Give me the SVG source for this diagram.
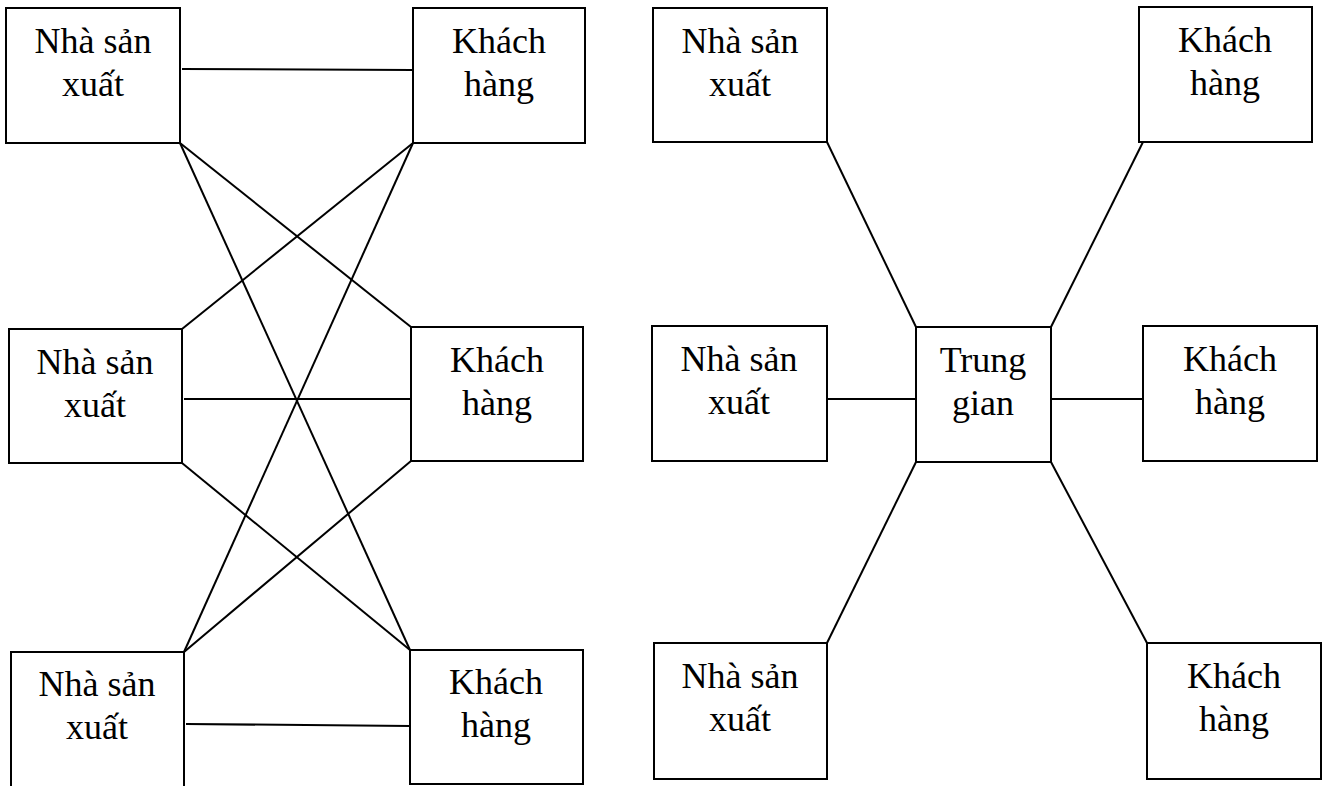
<svg xmlns="http://www.w3.org/2000/svg" width="1325" height="786" viewBox="0 0 1325 786">
<style>
.box{fill:#fff;stroke:#000;stroke-width:2}
.lbl{font-family:"Liberation Serif","Times New Roman",serif;font-size:36px;fill:#000;text-anchor:middle}
.ln{stroke:#000;stroke-width:2;fill:none}
</style>
<rect x="0" y="0" width="1325" height="786" fill="#fff"/>
<g id="connectors">
<line class="ln" x1="182" y1="69" x2="413" y2="70"/>
<line class="ln" x1="180" y1="143" x2="411" y2="327"/>
<line class="ln" x1="180" y1="143" x2="410" y2="650"/>
<line class="ln" x1="413" y1="143" x2="182" y2="329"/>
<line class="ln" x1="413" y1="143" x2="184" y2="652"/>
<line class="ln" x1="184" y1="399" x2="411" y2="399"/>
<line class="ln" x1="182" y1="463" x2="410" y2="650"/>
<line class="ln" x1="411" y1="461" x2="184" y2="652"/>
<line class="ln" x1="186" y1="724" x2="410" y2="726"/>
<line class="ln" x1="827" y1="142" x2="916" y2="327"/>
<line class="ln" x1="1143" y1="142" x2="1051" y2="327"/>
<line class="ln" x1="827" y1="399" x2="916" y2="399"/>
<line class="ln" x1="1051" y1="399" x2="1147" y2="399"/>
<line class="ln" x1="916" y1="462" x2="827" y2="643"/>
<line class="ln" x1="1051" y1="462" x2="1147" y2="643"/>
</g>
<g id="nsx1"><rect class="box" x="6" y="8" width="174" height="135"/><text class="lbl" x="93" y="53">Nhà sản</text><text class="lbl" x="93" y="96">xuất</text></g>
<g id="kh1"><rect class="box" x="413" y="8" width="172" height="135"/><text class="lbl" x="499" y="53">Khách</text><text class="lbl" x="499" y="96">hàng</text></g>
<g id="nsx2"><rect class="box" x="9" y="329" width="173" height="134"/><text class="lbl" x="95" y="374">Nhà sản</text><text class="lbl" x="95" y="417">xuất</text></g>
<g id="kh2"><rect class="box" x="411" y="327" width="172" height="134"/><text class="lbl" x="497" y="372">Khách</text><text class="lbl" x="497" y="415">hàng</text></g>
<g id="nsx3"><rect class="box" x="11" y="652" width="173" height="150"/><text class="lbl" x="97" y="696">Nhà sản</text><text class="lbl" x="97" y="739">xuất</text></g>
<g id="kh3"><rect class="box" x="410" y="650" width="173" height="134"/><text class="lbl" x="496" y="694">Khách</text><text class="lbl" x="496" y="737">hàng</text></g>
<g id="nsx4"><rect class="box" x="653" y="8" width="174" height="134"/><text class="lbl" x="740" y="53">Nhà sản</text><text class="lbl" x="740" y="96">xuất</text></g>
<g id="kh4"><rect class="box" x="1139" y="7" width="173" height="135"/><text class="lbl" x="1225" y="52">Khách</text><text class="lbl" x="1225" y="95">hàng</text></g>
<g id="nsx5"><rect class="box" x="652" y="326" width="175" height="135"/><text class="lbl" x="739" y="371">Nhà sản</text><text class="lbl" x="739" y="414">xuất</text></g>
<g id="tg"><rect class="box" x="916" y="327" width="135" height="135"/><text class="lbl" x="983" y="372">Trung</text><text class="lbl" x="983" y="415">gian</text></g>
<g id="kh5"><rect class="box" x="1143" y="326" width="174" height="135"/><text class="lbl" x="1230" y="371">Khách</text><text class="lbl" x="1230" y="414">hàng</text></g>
<g id="nsx6"><rect class="box" x="654" y="643" width="173" height="136"/><text class="lbl" x="740" y="688">Nhà sản</text><text class="lbl" x="740" y="731">xuất</text></g>
<g id="kh6"><rect class="box" x="1147" y="643" width="174" height="136"/><text class="lbl" x="1234" y="688">Khách</text><text class="lbl" x="1234" y="731">hàng</text></g>
</svg>
